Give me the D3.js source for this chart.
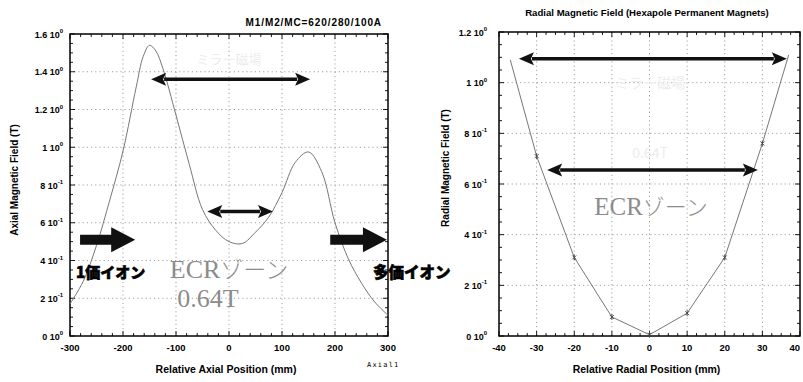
<!DOCTYPE html>
<html>
<head>
<meta charset="utf-8">
<script src="https://cdn.jsdelivr.net/npm/d3@7"></script>
<style>
  body { margin: 0; background: #fff; }
  svg { font-family: "Liberation Sans", Arial, sans-serif; }
</style>
</head>
<body>
<div id="chart"></div>
<script>
// axial field along the chamber (mm, T)
const axialPos   = [-300, -275, -250, -225, -200, -175, -162, -150, -138, -125, -100, -75, -50, -25, 0, 25, 50, 75, 100, 125, 150, 175, 200, 225, 250, 275, 300];
const axialField = [0.17, 0.29, 0.48, 0.72, 0.98, 1.32, 1.48, 1.54, 1.51, 1.42, 1.17, 0.91, 0.67, 0.56, 0.50, 0.49, 0.55, 0.63, 0.76, 0.92, 0.975, 0.87, 0.60, 0.41, 0.28, 0.18, 0.11];
const axialTicksX = [-300, -200, -100, 0, 100, 200, 300];
const axialTicksY = [0, 0.2, 0.4, 0.6, 0.8, 1.0, 1.2, 1.4, 1.6];
const axialTickLabelsY = ["0 10^0", "2 10^-1", "4 10^-1", "6 10^-1", "8 10^-1", "1 10^0", "1.2 10^0", "1.4 10^0", "1.6 10^0"];

// radial field of the hexapole (mm, T)
const radialPos   = [-37, -30, -20, -10, 0, 10, 20, 30, 37];
const radialField = [1.09, 0.71, 0.31, 0.075, 0.005, 0.09, 0.31, 0.76, 1.11];
const radialTicksX = [-40, -30, -20, -10, 0, 10, 20, 30, 40];
const radialTicksY = [0, 0.2, 0.4, 0.6, 0.8, 1.0, 1.2];
const radialTickLabelsY = ["0 10^0", "2 10^-1", "4 10^-1", "6 10^-1", "8 10^-1", "1 10^0", "1.2 10^0"];

// annotation arrows: [from, to, level] in data units
const axialDoubleArrows  = [[-147, 153, 1.36], [-41, 83, 0.66]];
const axialBlockArrows   = [[-281, -177, 0.51], [191, 298, 0.51]];
const radialDoubleArrows = [[-34.7, 36.5, 1.094], [-27.2, 28.8, 0.655]];

const W = 803, H = 382;
const svg = d3.select("#chart").append("svg")
  .attr("width", W).attr("height", H)
  .style("display", "block");

function drawPanel(cfg) {
  const g = svg.append("g");
  const x = d3.scaleLinear().domain(cfg.xDomain).range([cfg.left, cfg.right]);
  const y = d3.scaleLinear().domain(cfg.yDomain).range([cfg.bottom, cfg.top]);

  // dotted grid
  g.selectAll("line.gx").data(cfg.ticksX.slice(1, -1)).enter().append("line")
    .attr("x1", d => x(d)).attr("x2", d => x(d))
    .attr("y1", cfg.top).attr("y2", cfg.bottom)
    .attr("stroke", "#888").attr("stroke-width", 0.8).attr("stroke-dasharray", "1.2,3");
  g.selectAll("line.gy").data(cfg.ticksY.slice(1, -1)).enter().append("line")
    .attr("y1", d => y(d)).attr("y2", d => y(d))
    .attr("x1", cfg.left).attr("x2", cfg.right)
    .attr("stroke", "#888").attr("stroke-width", 0.8).attr("stroke-dasharray", "1.2,3");

  // inward ticks on all four sides
  const minorX = d3.range(cfg.xDomain[0], cfg.xDomain[1] + 1e-9, cfg.minorX);
  const minorY = d3.range(cfg.yDomain[0], cfg.yDomain[1] + 1e-9, cfg.minorY);
  const tk = g.append("g").attr("stroke", "#000").attr("stroke-width", 0.9);
  minorX.forEach(v => {
    const len = cfg.ticksX.some(t => Math.abs(t - v) < 1e-6) ? 5 : 3;
    tk.append("line").attr("x1", x(v)).attr("x2", x(v)).attr("y1", cfg.bottom).attr("y2", cfg.bottom - len);
    tk.append("line").attr("x1", x(v)).attr("x2", x(v)).attr("y1", cfg.top).attr("y2", cfg.top + len);
  });
  minorY.forEach(v => {
    const len = cfg.ticksY.some(t => Math.abs(t - v) < 1e-6) ? 5 : 3;
    tk.append("line").attr("y1", y(v)).attr("y2", y(v)).attr("x1", cfg.left).attr("x2", cfg.left + len);
    tk.append("line").attr("y1", y(v)).attr("y2", y(v)).attr("x1", cfg.right).attr("x2", cfg.right - len);
  });

  g.append("rect")
    .attr("x", cfg.left).attr("y", cfg.top)
    .attr("width", cfg.right - cfg.left).attr("height", cfg.bottom - cfg.top)
    .attr("fill", "none").attr("stroke", "#000").attr("stroke-width", 1.5);

  // tick labels (the last one is pulled inside the page when it would be clipped)
  g.selectAll("text.tx").data(cfg.ticksX).enter().append("text")
    .attr("x", d => Math.min(x(d), W - 1)).attr("y", cfg.bottom + 15)
    .attr("text-anchor", d => x(d) > W - 10 ? "end" : "middle")
    .attr("font-size", 9.5).attr("font-weight", "bold")
    .text(d => d);

  cfg.ticksY.forEach((v, i) => {
    const [mant, exp] = cfg.labelsY[i].split("^");
    const t = g.append("text")
      .attr("x", cfg.left - cfg.labelGap).attr("y", y(v) + 3.5)
      .attr("text-anchor", "end")
      .attr("font-size", 9).attr("font-weight", "bold");
    t.append("tspan").text(mant);
    t.append("tspan").attr("font-size", 6).attr("dy", -4.5).text(exp);
  });

  // axis titles
  g.append("text")
    .attr("transform", `translate(${cfg.yTitleX},${cfg.yTitleY}) rotate(-90)`)
    .attr("text-anchor", "middle")
    .attr("font-size", 10).attr("font-weight", "bold")
    .text(cfg.yTitle);
  g.append("text")
    .attr("x", (cfg.left + cfg.right) / 2 - 3).attr("y", cfg.bottom + 37)
    .attr("text-anchor", "middle")
    .attr("font-size", 10.5).attr("font-weight", "bold")
    .text(cfg.xTitle);

  // field curve
  const line = d3.line()
    .x((d, i) => x(cfg.xs[i]))
    .y(d => y(d))
    .curve(cfg.curve);
  g.append("path")
    .datum(cfg.ys)
    .attr("d", line)
    .attr("fill", "none")
    .attr("stroke", "#777")
    .attr("stroke-width", 1);

  if (cfg.markers) {
    g.selectAll("path.mk").data(cfg.xs.slice(1, -1)).enter().append("path")
      .attr("transform", (d, i) => `translate(${x(d)},${y(cfg.ys[i + 1])})`)
      .attr("d", "M-2,-2L2,2M-2,2L2,-2M0,-3L0,3")
      .attr("stroke", "#444").attr("stroke-width", 0.9);
  }

  // double headed arrows
  cfg.doubleArrows.forEach(([a, b, lv]) => {
    const x1 = x(a), x2 = x(b), yy = y(lv), hl = 15, hw = 6.5;
    g.append("line")
      .attr("x1", x1 + hl - 2).attr("x2", x2 - hl + 2)
      .attr("y1", yy).attr("y2", yy)
      .attr("stroke", "#111").attr("stroke-width", 3.5);
    g.append("path")
      .attr("d", `M${x1},${yy}L${x1 + hl},${yy - hw}L${x1 + hl - 3},${yy}L${x1 + hl},${yy + hw}Z` +
                 `M${x2},${yy}L${x2 - hl},${yy - hw}L${x2 - hl + 3},${yy}L${x2 - hl},${yy + hw}Z`)
      .attr("fill", "#111");
  });

  // block arrows
  (cfg.blockArrows || []).forEach(([a, b, lv]) => {
    const x1 = x(a), x2 = x(b), yy = y(lv), hl = 24, sw = 5, hw = 12.5;
    g.append("path")
      .attr("d", `M${x1},${yy - sw}L${x2 - hl},${yy - sw}L${x2 - hl},${yy - hw}L${x2},${yy}` +
                 `L${x2 - hl},${yy + hw}L${x2 - hl},${yy + sw}L${x1},${yy + sw}Z`)
      .attr("fill", "#111");
  });

  return { g, x, y };
}

const left = drawPanel({
  left: 70, right: 388, top: 34, bottom: 336,
  xDomain: [-300, 300], yDomain: [0, 1.6],
  ticksX: axialTicksX, ticksY: axialTicksY, labelsY: axialTickLabelsY,
  minorX: 20, minorY: 0.05, labelGap: 7,
  xs: axialPos, ys: axialField, curve: d3.curveCatmullRom,
  yTitle: "Axial Magnetic Field (T)", yTitleX: 18, yTitleY: 180,
  xTitle: "Relative Axial Position (mm)",
  doubleArrows: axialDoubleArrows, blockArrows: axialBlockArrows
});

const right = drawPanel({
  left: 499, right: 800, top: 32, bottom: 336,
  xDomain: [-40, 40], yDomain: [0, 1.2],
  ticksX: radialTicksX, ticksY: radialTicksY, labelsY: radialTickLabelsY,
  minorX: 2.5, minorY: 0.05, labelGap: 12,
  xs: radialPos, ys: radialField, curve: d3.curveLinear, markers: true,
  yTitle: "Radial Magnetic Field (T)", yTitleX: 449, yTitleY: 168,
  xTitle: "Relative Radial Position (mm)",
  doubleArrows: radialDoubleArrows
});

// titles
svg.append("text")
  .attr("x", 382).attr("y", 26).attr("text-anchor", "end")
  .attr("font-size", 10).attr("font-weight", "bold").attr("letter-spacing", 0.9)
  .text("M1/M2/MC=620/280/100A");
svg.append("text")
  .attr("x", 647).attr("y", 16).attr("text-anchor", "middle")
  .attr("font-size", 9.6).attr("font-weight", "bold")
  .text("Radial Magnetic Field (Hexapole Permanent Magnets)");
svg.append("text")
  .attr("x", 367).attr("y", 367)
  .attr("font-size", 7).attr("letter-spacing", 1.2)
  .style("font-family", "'DejaVu Sans Mono', monospace")
  .text("Axial1");

// ion labels
const jp = "'Noto Sans CJK JP', sans-serif";
const serif = "'Liberation Serif', 'DejaVu Serif', serif";
[[76, 278, 15, "1価イオン"], [373, 278, 15.5, "多価イオン"]].forEach(([xx, yy, fs, s]) => {
  svg.append("text").attr("x", xx).attr("y", yy)
    .style("font-family", jp).attr("font-weight", 900).attr("font-size", fs)
    .attr("stroke", "#000").attr("stroke-width", 0.6)
    .text(s);
});

// ECR zone labels (light thin lettering)
function ecr(xc, yb, big) {
  const t = svg.append("text")
    .attr("x", xc).attr("y", yb).attr("text-anchor", "middle")
    .attr("fill", "#8c8c8c");
  t.append("tspan").style("font-family", serif).attr("font-size", big).text("ECR");
  t.append("tspan").style("font-family", jp).attr("font-weight", 300).attr("font-size", big - 3).text("ゾーン");
}
ecr(229, 278, 26);
ecr(651, 215, 25);
svg.append("text")
  .attr("x", 208).attr("y", 307).attr("text-anchor", "middle")
  .style("font-family", serif).attr("font-size", 26)
  .attr("fill", "#8c8c8c")
  .text("0.64T");

// faint ghost lettering
[[229, 64, 13, "ミラー磁場"], [650, 88, 14, "ミラー磁場"], [650, 158, 14, "0.64T"]].forEach(([xx, yy, fs, s]) => {
  svg.append("text").attr("x", xx).attr("y", yy).attr("text-anchor", "middle")
    .style("font-family", jp).attr("font-size", fs).attr("fill", "#ededed").text(s);
});
</script>
</body>
</html>
